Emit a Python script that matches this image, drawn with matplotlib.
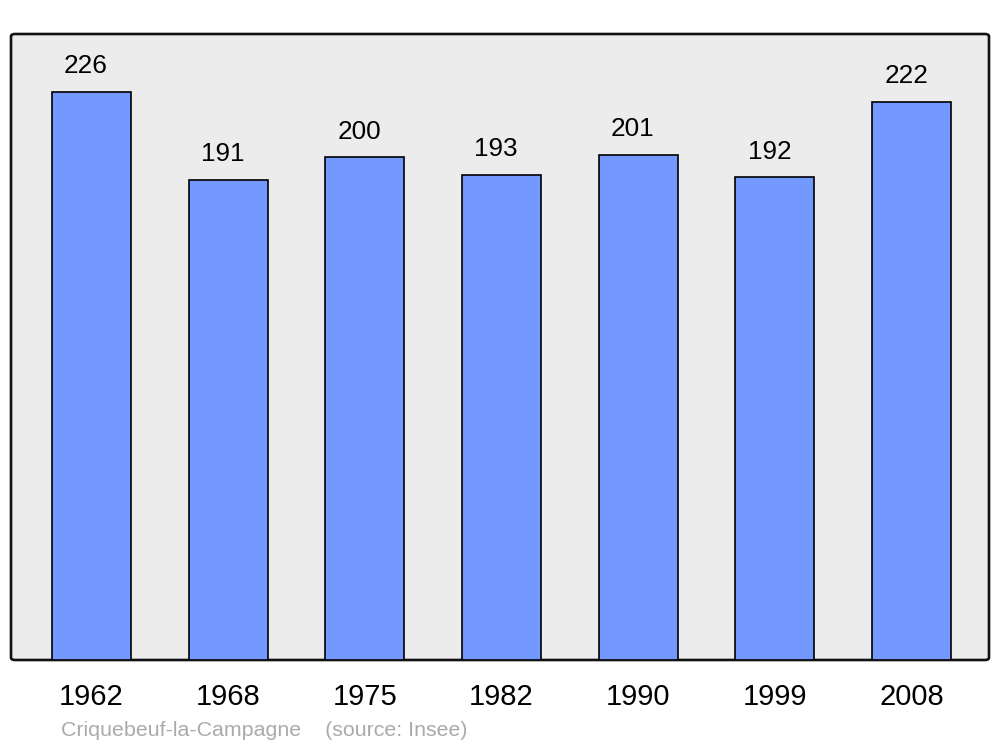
import matplotlib
matplotlib.use("Agg")
import matplotlib.pyplot as plt
from matplotlib.patches import FancyBboxPatch

years = ["1962", "1968", "1975", "1982", "1990", "1999", "2008"]
population = [226, 191, 200, 193, 201, 192, 222]
caption = "Criquebeuf-la-Campagne    (source: Insee)"

plt.rcParams['font.family'] = ['Liberation Sans', 'DejaVu Sans']

fig = plt.figure(figsize=(10, 7.47), dpi=100)
ax = fig.add_axes([0.011, 1 - 660/747, 0.978, (660-34)/747])
ax.set_facecolor('none')
for s in ax.spines.values():
    s.set_visible(False)

bg = FancyBboxPatch((0, 0), 1, 1, boxstyle="round,pad=0,rounding_size=0.004",
                    transform=ax.transAxes, facecolor='#ececec', edgecolor='#111111',
                    linewidth=1.9, zorder=0, clip_on=False)
ax.add_patch(bg)

x = list(range(len(years)))
bars = ax.bar(x, population, width=0.578, color='#7399ff', edgecolor='#000000',
              linewidth=1.2, zorder=2)
for xi, v in zip(x, population):
    ax.annotate(str(v), (xi, v), xytext=(-4, 10), textcoords='offset points',
                ha='center', va='bottom', fontsize=18.8, color='#000000')

ax.set_xlim(-0.589, 6.566)
ax.set_ylim(0, 249.1)
ax.set_yticks([])
ax.set_xticks(x)
ax.set_xticklabels(years, fontsize=21)
ax.tick_params(axis='x', length=0, pad=16.5)

fig.text(61/1000, 1 - 730/747, caption, fontsize=15.4, color='#aaaaaa',
         ha='left', va='center')

fig.savefig("out.png", dpi=100)
